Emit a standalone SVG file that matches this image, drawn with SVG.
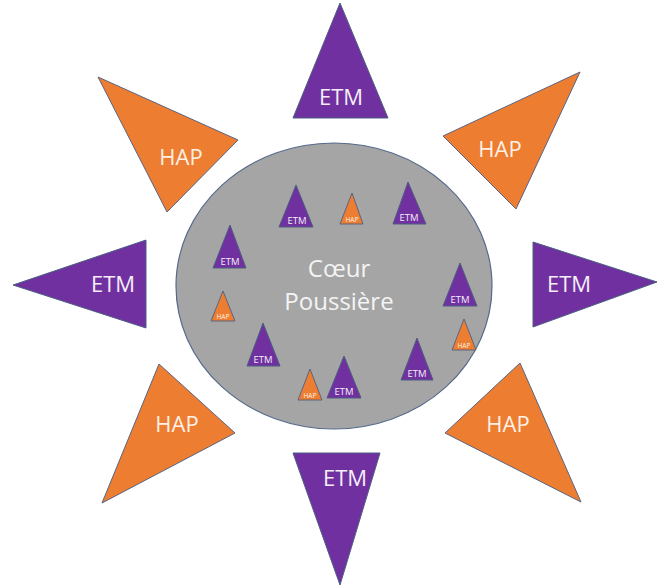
<svg xmlns="http://www.w3.org/2000/svg" width="659" height="586" viewBox="0 0 659 586">
<style>
.etm{fill:#7030a0;stroke:#4a5f80;stroke-width:1}
.hap{fill:#ed7d31;stroke:#5a6480;stroke-width:1}
.core{fill:#a5a5a5;stroke:#55698a;stroke-width:1.2}
text{font-family:"Open Sans","Liberation Sans",sans-serif;text-anchor:middle}
.lt{fill:#f6eef8;font-size:22px}
.lh{fill:#fdf1e6;font-size:22px}
.ct{fill:#f4f4f4;font-size:24px}
.st{fill:#f6eef8;font-size:9.5px}
.sh{fill:#fdf1e6;font-size:6.5px}
</style>
<rect width="659" height="586" fill="#ffffff"/>
<g id="connectors"></g>
<g id="etm-top"><polygon class="etm" points="340,3 388,118 293,118"/><text class="lt" x="341" y="105">ETM</text></g>
<g id="hap-top-left"><polygon class="hap" points="98,77 238,140 167,212"/><text class="lh" x="181" y="165">HAP</text></g>
<g id="hap-top-right"><polygon class="hap" points="580,72 443,136 516,209"/><text class="lh" x="500" y="157">HAP</text></g>
<g id="etm-left"><polygon class="etm" points="13,285 146,240 146,328"/><text class="lt" x="113" y="292">ETM</text></g>
<g id="etm-right"><polygon class="etm" points="533,242 657,282 533,327"/><text class="lt" x="569" y="292">ETM</text></g>
<g id="hap-bottom-left"><polygon class="hap" points="159,364 235,433 102,503"/><text class="lh" x="177" y="432">HAP</text></g>
<g id="hap-bottom-right"><polygon class="hap" points="520,363 445,433 581,502"/><text class="lh" x="508" y="432">HAP</text></g>
<g id="etm-bottom"><polygon class="etm" points="293,453 380,453 340,585"/><text class="lt" x="345" y="486">ETM</text></g>
<g id="core">
<ellipse class="core" cx="334" cy="286" rx="158" ry="143"/>
<text class="ct" x="339" y="277">Cœur</text>
<text class="ct" x="339" y="310">Poussière</text>
</g>
<g id="s1"><polygon class="etm" points="296,185 313,227 279,227"/><text class="st" x="297" y="223.5">ETM</text></g>
<g id="s2"><polygon class="hap" points="352,193 363,224 340,224"/><text class="sh" x="352" y="222">HAP</text></g>
<g id="s3"><polygon class="etm" points="408,182 426,224 393,224"/><text class="st" x="409" y="220.5">ETM</text></g>
<g id="s4"><polygon class="etm" points="230,225 246,268 213,268"/><text class="st" x="230" y="264.5">ETM</text></g>
<g id="s5"><polygon class="hap" points="223,291 235,321 211,321"/><text class="sh" x="223" y="319">HAP</text></g>
<g id="s6"><polygon class="etm" points="263,323 280,366 247,366"/><text class="st" x="263" y="362.5">ETM</text></g>
<g id="s7"><polygon class="hap" points="310,369 322,400 298,400"/><text class="sh" x="310" y="398">HAP</text></g>
<g id="s8"><polygon class="etm" points="344,356 361,398 327,398"/><text class="st" x="344" y="394.5">ETM</text></g>
<g id="s9"><polygon class="etm" points="417,338 433,380 401,380"/><text class="st" x="417" y="376.5">ETM</text></g>
<g id="s10"><polygon class="etm" points="460,263 477,306 443,306"/><text class="st" x="460" y="302.5">ETM</text></g>
<g id="s11"><polygon class="hap" points="464,319 476,350 452,350"/><text class="sh" x="464" y="348">HAP</text></g>
</svg>
